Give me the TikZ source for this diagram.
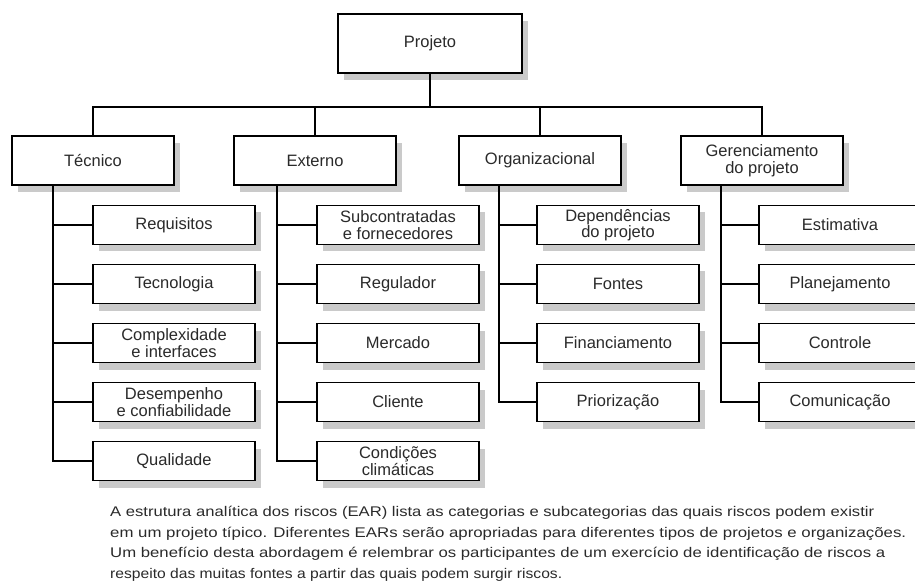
\documentclass[tikz,border=0pt]{standalone}
\usepackage{fontspec}
\setmainfont{Liberation Sans}
\usetikzlibrary{shadows}
\definecolor{ink}{HTML}{2A2A2A}
\definecolor{shade}{HTML}{CACACA}
% a caption line stretched to a given width, keeping its height
\newcommand{\capline}[2]{\resizebox{#1}{\height}{#2}}
\begin{document}
\begin{tikzpicture}[x=1pt,y=-1pt,
  card/.style={draw=black, line width=1.2pt, fill=white, inner sep=0pt,
    align=center, text=ink, font=\fontsize{16.5}{16.5}\selectfont,
    drop shadow={shadow xshift=6pt, shadow yshift=-7pt, fill=shade, opacity=1}},
  topcard/.style={card, minimum width=184pt, minimum height=59pt},
  catcard/.style={card, minimum width=162pt, minimum height=49pt},
  subcard/.style={card, minimum width=162pt, minimum height=39pt},
  link/.style={draw=black, line width=1.2pt},
  para/.style={anchor=base west, inner sep=0pt, text=ink, font=\fontsize{14}{15}\selectfont}]
\useasboundingbox (0,0) rectangle (915,585);

% root
\node[topcard] (root) at (430,43.5) {Projeto};

% categories
\node[catcard] (tec) at (93,160.5)  {Técnico};
\node[catcard] (ext) at (315,160.5) {Externo};
\node[catcard] (org) at (540,160.5) {Organizacional};
\node[catcard] (ger) at (762,160.5) {Gerenciamento\\do projeto};

% bus from the root to the categories
\coordinate (bus) at (430,107);
\draw[link] (root.south) -- (bus);
\draw[link] (tec.north) |- (bus) -| (ger.north);
\draw[link] (ext.north) -- (ext.north |- bus);
\draw[link] (org.north) -- (org.north |- bus);

% trunks under each category
\coordinate (t1) at (53,185);
\coordinate (t2) at (277,185);
\coordinate (t3) at (499,185);
\coordinate (t4) at (721,185);

% Técnico
\node[subcard] (req) at (174,225) {Requisitos};
\node[subcard] (tcn) at (174,284) {Tecnologia};
\node[subcard] (cpx) at (174,343) {Complexidade\\e interfaces};
\node[subcard] (dsp) at (174,402) {Desempenho\\e confiabilidade};
\node[subcard] (qld) at (174,461) {Qualidade};

% Externo
\node[subcard] (sub) at (398,225) {Subcontratadas\\e fornecedores};
\node[subcard] (reg) at (398,284) {Regulador};
\node[subcard] (mer) at (398,343) {Mercado};
\node[subcard] (cli) at (398,402) {Cliente};
\node[subcard] (cnd) at (398,461) {Condições\\climáticas};

% Organizacional
\node[subcard] (dep) at (618,225) {Dependências\\do projeto};
\node[subcard] (fon) at (618,284) {Fontes};
\node[subcard] (fin) at (618,343) {Financiamento};
\node[subcard] (pri) at (618,402) {Priorização};

% Gerenciamento do projeto
\node[subcard] (est) at (840,225) {Estimativa};
\node[subcard] (pla) at (840,284) {Planejamento};
\node[subcard] (ctl) at (840,343) {Controle};
\node[subcard] (com) at (840,402) {Comunicação};

\foreach \c in {req,tcn,cpx,dsp,qld} \draw[link] (t1) |- (\c.west);
\foreach \c in {sub,reg,mer,cli,cnd} \draw[link] (t2) |- (\c.west);
\foreach \c in {dep,fon,fin,pri} \draw[link] (t3) |- (\c.west);
\foreach \c in {est,pla,ctl,com} \draw[link] (t4) |- (\c.west);

% caption
\node[para] (l1) at (110,516) {\capline{764pt}{A estrutura analítica dos riscos (EAR) lista as categorias e subcategorias das quais riscos podem existir}};
\node[para] (l2) at (110,537) {\capline{796pt}{em um projeto típico. Diferentes EARs serão apropriadas para diferentes tipos de projetos e organizações.}};
\node[para] (l3) at (110,557) {\capline{775pt}{Um benefício desta abordagem é relembrar os participantes de um exercício de identificação de riscos a}};
\node[para] (l4) at (110,578) {\capline{452pt}{respeito das muitas fontes a partir das quais podem surgir riscos.}};
\end{tikzpicture}
\end{document}
